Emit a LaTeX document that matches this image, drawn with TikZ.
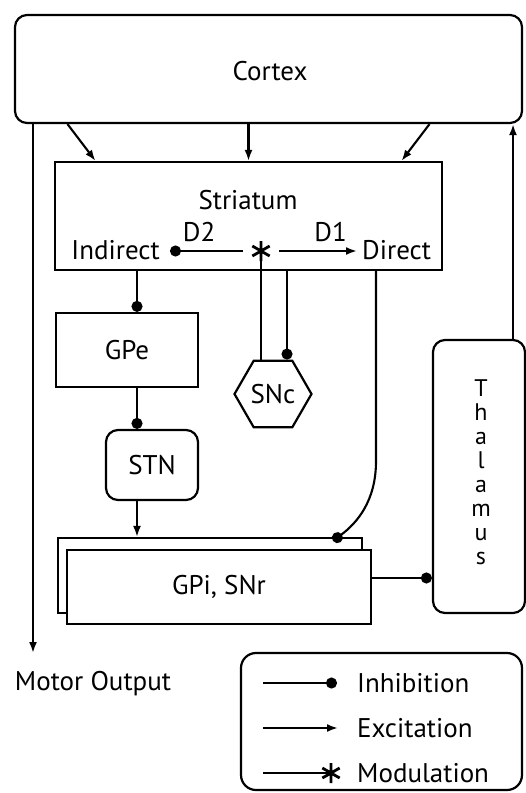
\documentclass[tikz,border=0pt]{standalone}
\usepackage{fontspec}
\setmainfont{PT Sans}
\usetikzlibrary{arrows.meta,shapes.geometric,calc}
\tikzset{
    box/.style={draw, line width=2.2pt, rectangle, fill=white, inner sep=0pt},
    rbox/.style={box, rounded corners=12pt},
    inh/.style={line width=2.1pt, -{Circle[length=11pt]}},
    exc/.style={line width=2.1pt, -{Latex[length=11pt,width=8pt]}},
    mod/.style={line width=2.1pt},
    lbl/.style={inner sep=0pt}
}
\newcommand{\modstar}[1]{% modulation mark
\draw[line width=2.8pt] (#1) +(90:10) -- +(270:10)
    (#1) +(30:10) -- +(210:10) (#1) +(150:10) -- +(330:10);}
\begin{document}
\begin{tikzpicture}[x=1pt, y=1pt, font=\fontsize{27}{27}\selectfont]
\useasboundingbox (0,0) rectangle (526,-793);

% boxes
\node[rbox, minimum width=507, minimum height=108] (cortex) at (268.5,-69) {};
\node at (270,-71) {Cortex};
\node[box, minimum width=387, minimum height=108] (str) at (248.5,-216) {};
\node at (248,-200) {Striatum};
\node[box, minimum width=142, minimum height=74] (gpe) at (127,-350) {GPe};
\node[rbox, minimum width=92, minimum height=70] (stn) at (152,-465) {STN};
\node[draw, line width=2.2pt, regular polygon, regular polygon sides=6,
      minimum size=77, inner sep=0pt] (snc) at (273,-394) {SNc};
\node[box, minimum width=304, minimum height=75] (gpib) at (210,-575.5) {};
\node[box, minimum width=304, minimum height=74] (gpi) at (219,-587) {GPi, SNr};
\node[rbox, minimum width=92, minimum height=273] (thal) at (479,-476.5) {};
\node[align=center, font=\fontsize{24}{24}\selectfont] at (481,-472)
    {T\\h\\a\\l\\a\\m\\u\\s};
\node[lbl] (motor) at (93,-684) {Motor Output};

% striatum inside
\node[lbl, anchor=east] (ind) at (160,-250) {Indirect};
\node[lbl, anchor=west] (dir) at (362,-250) {Direct};
\node[circle, minimum size=36, inner sep=0pt] (ast) at (261,-251) {};
\draw[inh] (ast.west) -- node[lbl, pos=0.6, above=8pt] {D2} ([xshift=10pt]ind.east |- ast);
\draw[exc] (ast.east) -- node[lbl, pos=0.66, above=8pt] {D1} ([xshift=-5pt]dir.west |- ast);

% cortex to striatum
\draw[exc] ([xshift=-201pt]cortex.south) -- ([xshift=-153pt]str.north);
\draw[exc] (str.north |- cortex.south) -- (str.north);
\draw[exc] ([xshift=161pt]cortex.south) -- ([xshift=153pt]str.north);

% indirect path
\coordinate (spine) at (137,0);
\draw[inh] (str.south -| spine) -- (gpe.north -| spine);
\draw[inh] (gpe.south -| spine) -- (stn.north -| spine);
\draw[exc] (stn.south -| spine) -- (gpib.north -| spine);

% SNc
\coordinate (sncin) at ($(snc.north)+(14,0)$);
\draw[mod] (ast |- snc.north) -- (ast.center);
\modstar{ast}
\draw[inh] (str.south -| sncin) -- (sncin);

% direct path
\draw[inh] ([xshift=127.5pt]str.south) -- ++(0,-190)
    .. controls ++(0,-40) and ++(24,18) .. ([xshift=123pt,yshift=-4pt]gpib.north);

% output
\draw[inh] ([yshift=9pt]gpi.east) -- ([yshift=9pt]gpi.east -| thal.west);
\draw[exc] ([xshift=34pt]thal.north) -- ([xshift=34pt]thal.north |- cortex.south);
\coordinate (mo) at (33,-653);
\draw[exc] (cortex.south -| mo) -- (mo);

% legend
\draw[line width=2.2pt, rounded corners=15pt] (241,-653) rectangle (522,-790);
\node[lbl, anchor=west] (linh) at (357,-683) {Inhibition};
\node[lbl, anchor=west] (lexc) at (357,-728) {Excitation};
\node[lbl, anchor=west] (lmod) at (357,-773) {Modulation};
\draw[inh] ([xshift=-94pt]linh.west) -- ([xshift=-20pt]linh.west);
\draw[exc] ([xshift=-94pt]lexc.west) -- ([xshift=-19pt]lexc.west);
\coordinate (lstar) at ([xshift=-26pt]lmod.west);
\draw[mod] ([xshift=-94pt]lmod.west) -- (lstar);
\modstar{lstar}
\end{tikzpicture}
\end{document}
